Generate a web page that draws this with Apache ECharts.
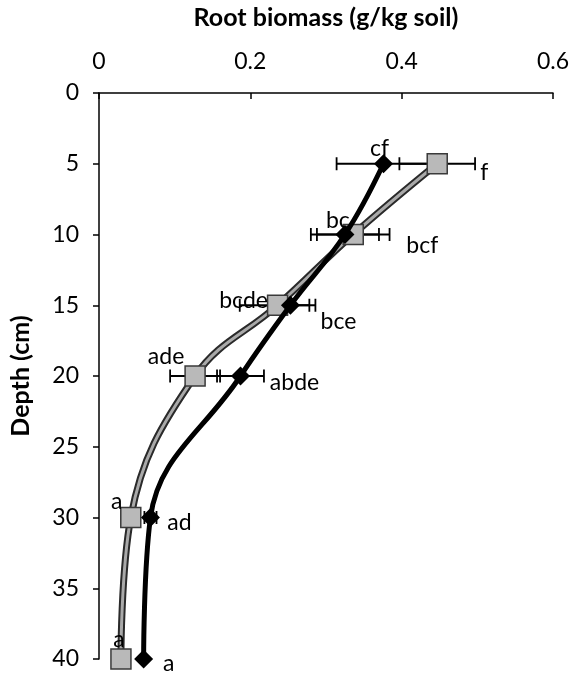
<!DOCTYPE html>
<html>
<head>
<meta charset="utf-8">
<script src="https://cdn.jsdelivr.net/npm/echarts@6/dist/echarts.min.js"></script>
<style>
html,body{margin:0;padding:0;background:#fff;}
#chart{width:574px;height:673px;}
</style>
</head>
<body>
<div id="chart"></div>
<script>
// ---- data ----
const depths = [5, 10, 15, 20, 30, 40];
const blackValues = [0.376, 0.325, 0.253, 0.187, 0.068, 0.059];
const blackErrors = [0.062, 0.045, 0.025, 0.031, 0.008, 0];
const grayValues = [0.447, 0.336, 0.236, 0.127, 0.042, 0.029];
const grayErrors = [0.050, 0.048, 0.050, 0.033, 0, 0];
const blackLetters = ['cf', 'bc', 'bce', 'abde', 'ad', 'a'];
const grayLetters = ['f', 'bcf', 'bcde', 'ade', 'a', 'a'];
const xTitle = 'Root biomass (g/kg soil)';
const yTitle = 'Depth (cm)';

// ---- layout (label offsets in px) ----
const blackLabelOffsets = [[-4, -15], [-7, -14], [48, 16], [54, 7], [29, 5], [25, 5]];
const grayLabelOffsets = [[47, 9], [69, 11], [-34, -5], [-29, -19], [-14, -16], [-2, -19]];

const FONT = 'Lato, "Open Sans", sans-serif';

function pts(vals, letters, offs) {
  return vals.map((v, i) => ({
    value: [v, depths[i]],
    label: {
      show: true, formatter: letters[i], position: 'inside', offset: offs[i],
      color: '#000', fontSize: 23, fontFamily: FONT
    }
  }));
}
function errData(vals, errs) {
  return vals.map((v, i) => [v, depths[i], errs[i]]);
}

function renderErr(params, api) {
  const x = api.value(0), y = api.value(1), e = api.value(2);
  if (!e) return null;
  const a = api.coord([x - e, y]);
  const b = api.coord([x + e, y]);
  const h = 6.5;
  const st = {stroke: '#000', lineWidth: 1.8};
  return {
    type: 'group',
    children: [
      {type: 'line', shape: {x1: a[0], y1: a[1], x2: b[0], y2: b[1]}, style: st},
      {type: 'line', shape: {x1: a[0], y1: a[1] - h, x2: a[0], y2: a[1] + h}, style: st},
      {type: 'line', shape: {x1: b[0], y1: b[1] - h, x2: b[0], y2: b[1] + h}, style: st}
    ]
  };
}

const chart = echarts.init(document.getElementById('chart'));
chart.setOption({
  animation: false,
  backgroundColor: '#fff',
  grid: {left: 95, right: 21, top: 91, bottom: 14, containLabel: false},
  xAxis: {
    type: 'value', position: 'top', min: 0, max: 0.6, interval: 0.2,
    name: xTitle, nameLocation: 'middle', nameGap: 63,
    nameTextStyle: {fontSize: 25, fontWeight: 'bold', color: '#000', fontFamily: FONT},
    axisLine: {show: true, lineStyle: {color: '#000', width: 1.5}},
    axisTick: {show: true, inside: true, length: 6, lineStyle: {color: '#000', width: 1.5}},
    axisLabel: {fontSize: 23, color: '#000', fontFamily: FONT, margin: 20,
      formatter: v => (v === 0 ? '0' : String(Math.round(v * 10) / 10))},
    splitLine: {show: false}
  },
  yAxis: {
    type: 'value', inverse: true, min: 0, max: 40, interval: 5,
    name: yTitle, nameLocation: 'middle', nameGap: 66, nameRotate: 90,
    nameTextStyle: {fontSize: 25, fontWeight: 'bold', color: '#000', fontFamily: FONT},
    axisLine: {show: true, lineStyle: {color: '#000', width: 1.5}},
    axisTick: {show: true, inside: false, length: 6, lineStyle: {color: '#000', width: 1.5}},
    axisLabel: {fontSize: 23, color: '#000', fontFamily: FONT, margin: 20},
    splitLine: {show: false}
  },
  series: [
    {
      type: 'custom', renderItem: renderErr, data: errData(grayValues, grayErrors),
      encode: {x: 0, y: 1}, z: 1, silent: true
    },
    {
      type: 'custom', renderItem: renderErr, data: errData(blackValues, blackErrors),
      encode: {x: 0, y: 1}, z: 1, silent: true
    },
    {
      type: 'line', data: grayValues.map((v, i) => [v, depths[i]]), smooth: 0.4,
      symbol: 'none', lineStyle: {color: '#2a2a2a', width: 7}, z: 2, silent: true
    },
    {
      type: 'line', data: pts(grayValues, grayLetters, grayLabelOffsets), smooth: 0.4,
      symbol: 'rect', symbolSize: 20,
      lineStyle: {color: '#a9a9a9', width: 3},
      itemStyle: {color: '#b9b9b9', borderColor: '#3a3a3a', borderWidth: 1.5},
      z: 3
    },
    {
      type: 'line', data: pts(blackValues, blackLetters, blackLabelOffsets), smooth: 0.4,
      symbol: 'diamond', symbolSize: 19,
      lineStyle: {color: '#000', width: 5},
      itemStyle: {color: '#000'},
      z: 4
    }
  ]
});
</script>
</body>
</html>
